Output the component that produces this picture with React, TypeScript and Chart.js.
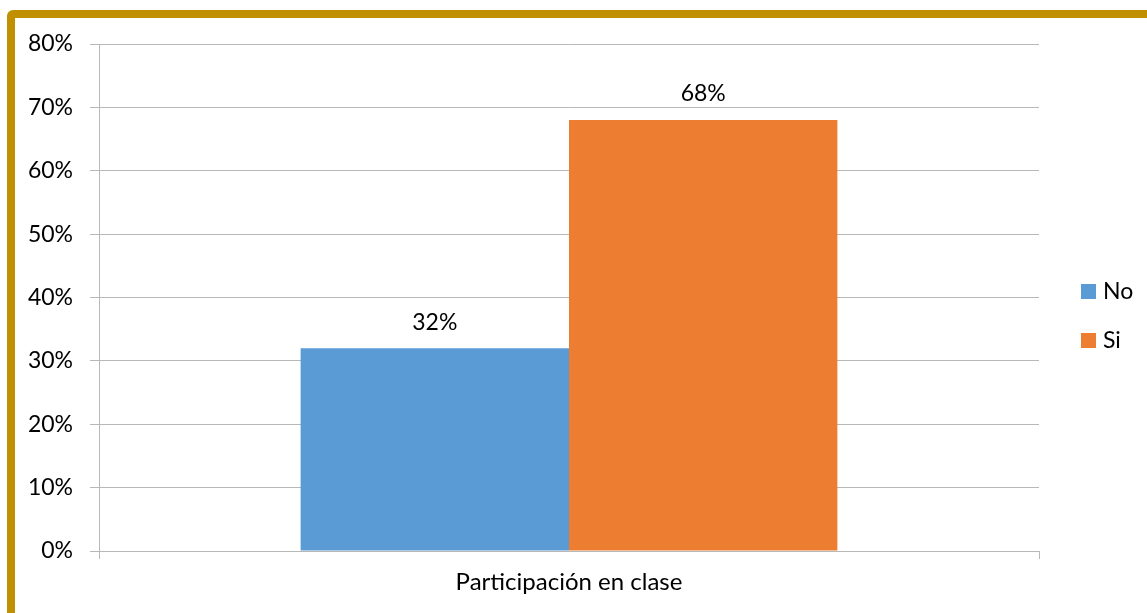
import React, { useEffect, useRef } from 'react';
import { Chart, registerables } from 'chart.js';

Chart.register(...registerables);

const categories = ['Participación en clase'];
const seriesNames = ['No', 'Si'];
const noValues = [0.32];
const siValues = [0.68];
const seriesColors = ['#5B9BD5', '#ED7D31'];
const yMin = 0;
const yMax = 0.8;
const yStep = 0.1;

const FONT = 'Lato';
const FONT_SIZE = 23;
const W = 1147;
const H = 613;

const pct = (v: number) => `${Math.round(v * 100)}%`;

const dataLabelPlugin = {
  id: 'dataLabels',
  afterDatasetsDraw(chart: any) {
    const ctx = chart.ctx;
    ctx.save();
    ctx.font = `${FONT_SIZE}px ${FONT}`;
    ctx.fillStyle = '#000';
    ctx.textAlign = 'center';
    ctx.textBaseline = 'middle';
    chart.data.datasets.forEach((ds: any, i: number) => {
      const meta = chart.getDatasetMeta(i);
      meta.data.forEach((el: any, j: number) => {
        ctx.fillText(pct(ds.data[j]), el.x, el.y - 26);
      });
    });
    ctx.restore();
  },
};

const legendPlugin = {
  id: 'sideLegend',
  afterDraw(chart: any) {
    const ctx = chart.ctx;
    const area = chart.chartArea;
    ctx.save();
    ctx.font = `${FONT_SIZE}px ${FONT}`;
    ctx.textAlign = 'left';
    ctx.textBaseline = 'middle';
    const boxX = area.right + 42;
    const startY = 284;
    chart.data.datasets.forEach((ds: any, i: number) => {
      const y = startY + i * 49;
      ctx.fillStyle = ds.backgroundColor;
      ctx.fillRect(boxX, y, 15, 15);
      ctx.fillStyle = '#000';
      ctx.fillText(ds.label, boxX + 22, y + 8);
    });
    ctx.restore();
  },
};

export default function App() {
  const ref = useRef<HTMLCanvasElement | null>(null);

  useEffect(() => {
    let chart: Chart | null = null;
    let cancelled = false;
    const build = () => {
      if (cancelled || !ref.current) return;
      chart = new Chart(ref.current, {
        type: 'bar',
        data: {
          labels: categories,
          datasets: [
            { label: seriesNames[0], data: noValues, backgroundColor: seriesColors[0] },
            { label: seriesNames[1], data: siValues, backgroundColor: seriesColors[1] },
          ],
        },
        options: {
          responsive: false,
          animation: false,
          layout: { padding: { left: 0, top: 44, right: 108, bottom: 0 } },
          plugins: {
            legend: { display: false },
            tooltip: { enabled: false },
          },
          datasets: {
            bar: { categoryPercentage: 0.571, barPercentage: 1 },
          },
          scales: {
            x: {
              offset: true,
              grid: {
                offset: true,
                drawOnChartArea: false,
                drawTicks: true,
                tickLength: 8,
                color: '#B8B8B8',
              },
              border: { display: true, color: '#B8B8B8' },
              ticks: {
                color: '#000',
                font: { family: FONT, size: 24 },
                padding: 9,
              },
              afterFit: (s: any) => {
                s.height = 62;
              },
            },
            y: {
              min: yMin,
              max: yMax,
              grid: {
                color: '#B8B8B8',
                drawTicks: true,
                tickLength: 9,
              },
              border: { display: true, color: '#B8B8B8' },
              ticks: {
                stepSize: yStep,
                color: '#000',
                font: { family: FONT, size: FONT_SIZE },
                padding: 17,
                callback: (v: any) => pct(Number(v)),
              },
              afterFit: (s: any) => {
                s.width = 99;
              },
            },
          },
        },
        plugins: [dataLabelPlugin, legendPlugin],
      });
    };
    const fontsReady = (document as any).fonts
      ? (document as any).fonts.load(`${FONT_SIZE}px ${FONT}`).then(() => undefined, () => undefined)
      : Promise.resolve();
    fontsReady.then(build);
    return () => {
      cancelled = true;
      if (chart) chart.destroy();
    };
  }, []);

  return (
    <div
      style={{
        position: 'fixed',
        left: 0,
        top: 0,
        width: W,
        height: H,
        overflow: 'hidden',
        background: '#fff',
      }}
    >
      <div
        style={{
          position: 'absolute',
          left: 7,
          top: 10,
          width: 1200,
          height: 700,
          border: '8px solid #C09000',
          borderRadius: 6,
          boxSizing: 'border-box',
        }}
      />
      <canvas
        ref={ref}
        width={W}
        height={H}
        style={{ position: 'absolute', left: 0, top: 0, width: W, height: H }}
      />
    </div>
  );
}
